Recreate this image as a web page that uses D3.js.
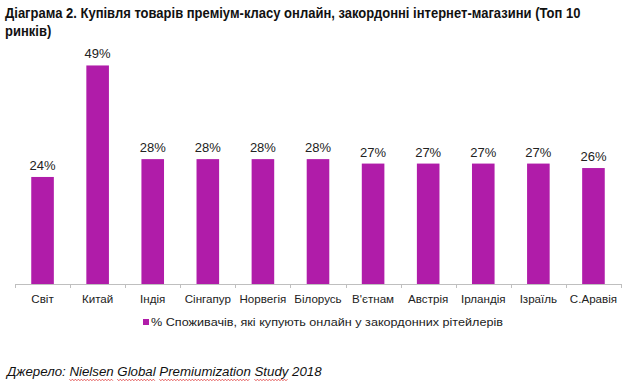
<!DOCTYPE html>
<html>
<head>
<meta charset="utf-8">
<script src="https://cdn.jsdelivr.net/npm/d3@7"></script>
<style>
  html, body { margin: 0; padding: 0; background: #fff; }
  svg { display: block; }
</style>
</head>
<body>
<svg id="chart" width="638" height="390"></svg>
<script>
const categories = ["Світ", "Китай", "Індія", "Сінгапур", "Норвегія", "Білорусь", "В'єтнам", "Австрія", "Ірландія", "Ізраїль", "С.Аравія"];
const values = [24, 49, 28, 28, 28, 28, 27, 27, 27, 27, 26];
const seriesName = "% Споживачів, які купують онлайн у закордонних рітейлерів";
const titleLines = ["Діаграма 2. Купівля товарів преміум-класу онлайн, закордонні інтернет-магазини (Топ 10", "ринків)"];
const sourceLabel = "Джерело: ";
const sourceWords = ["Nielsen", "Global", "Premiumization", "Study", "2018"];
const underlinedWords = ["Nielsen", "Global", "Premiumization", "Study"];

const svg = d3.select("#chart");
const barColor = "#B01CA9";

// scale a text horizontally so it spans the target width (narrow-font look)
function squeeze(sel, x0, y0, target) {
  const w = sel.node().getComputedTextLength();
  const k = target / w;
  sel.attr("x", 0).attr("y", 0).attr("transform", `translate(${x0},${y0}) scale(${k},1)`);
  return k;
}

// Title
const titleFont = "'Liberation Sans', Arial, sans-serif";
const t1 = svg.append("text")
  .attr("font-family", titleFont).attr("font-weight", "bold").attr("font-size", 15)
  .attr("fill", "#111").text(titleLines[0]);
const k = squeeze(t1, 5, 18, 576);
svg.append("text")
  .attr("font-family", titleFont).attr("font-weight", "bold").attr("font-size", 15)
  .attr("fill", "#111").attr("transform", `translate(5,35.5) scale(${k},1)`)
  .text(titleLines[1]);

// Scales
const x = d3.scaleBand().domain(categories).range([15, 621]).paddingInner(0.59).paddingOuter(0.295);
const y = d3.scaleLinear().domain([0, 50]).range([284, 61]);

// Bars
svg.append("g").selectAll("rect").data(values).join("rect")
  .attr("x", (d, i) => x(categories[i]))
  .attr("y", d => y(d))
  .attr("width", x.bandwidth())
  .attr("height", d => y(0) - y(d))
  .attr("fill", barColor);

// Value labels
svg.append("g").selectAll("text").data(values).join("text")
  .attr("x", (d, i) => x(categories[i]) + x.bandwidth() / 2)
  .attr("y", d => y(d) - 7)
  .attr("text-anchor", "middle")
  .attr("font-family", "'Liberation Sans', Arial, sans-serif")
  .attr("font-size", 13)
  .attr("fill", "#222")
  .text(d => d + "%");

// X axis
const axisG = svg.append("g");
axisG.append("line").attr("x1", 15).attr("x2", 621).attr("y1", 284.5).attr("y2", 284.5)
  .attr("stroke", "#BFBFBF").attr("stroke-width", 1);
const boundaries = categories.map(c => x(c) - x.step() * x.paddingInner() / 2).concat([621]);
axisG.selectAll("line.tick").data(boundaries).join("line").attr("class", "tick")
  .attr("x1", d => Math.round(d) + 0.5).attr("x2", d => Math.round(d) + 0.5)
  .attr("y1", 284).attr("y2", 288)
  .attr("stroke", "#BFBFBF");
axisG.selectAll("text").data(categories).join("text")
  .attr("x", d => x(d) + x.bandwidth() / 2)
  .attr("y", 302.5)
  .attr("text-anchor", "middle")
  .attr("font-family", "'Liberation Sans', Arial, sans-serif")
  .attr("font-size", 11.6)
  .attr("fill", "#222")
  .text(d => d);

// Legend
svg.append("rect").attr("x", 143).attr("y", 319).attr("width", 6).attr("height", 6).attr("fill", barColor);
const lg = svg.append("text")
  .attr("font-family", "'Liberation Sans', Arial, sans-serif")
  .attr("font-size", 11.8).attr("fill", "#222")
  .text(seriesName);
squeeze(lg, 151, 325.5, 352);

// Source
const src = svg.append("text")
  .attr("font-family", "'Liberation Sans', sans-serif")
  .attr("font-style", "italic").attr("font-size", 13.5).attr("fill", "#111");
src.append("tspan").text(sourceLabel);
src.append("tspan").text(sourceWords.join(" "));
const ks = squeeze(src, 7, 375.5, 315);

// Wavy spell-check underlines
const node = src.node();
let pos = sourceLabel.length;
const wavy = svg.append("g");
sourceWords.forEach(w => {
  if (underlinedWords.includes(w)) {
    const a = 7 + ks * node.getStartPositionOfChar(pos).x;
    const b = 7 + ks * node.getEndPositionOfChar(pos + w.length - 1).x;
    const pts = [];
    for (let xx = a, i = 0; xx <= b; xx += 1.5, i++) pts.push([xx, 379.5 + (i % 2 ? 1.2 : -0.3)]);
    wavy.append("path").attr("d", d3.line()(pts)).attr("fill", "none")
      .attr("stroke", "#E04040").attr("stroke-width", 0.9);
  }
  pos += w.length + 1;
});
</script>
</body>
</html>
